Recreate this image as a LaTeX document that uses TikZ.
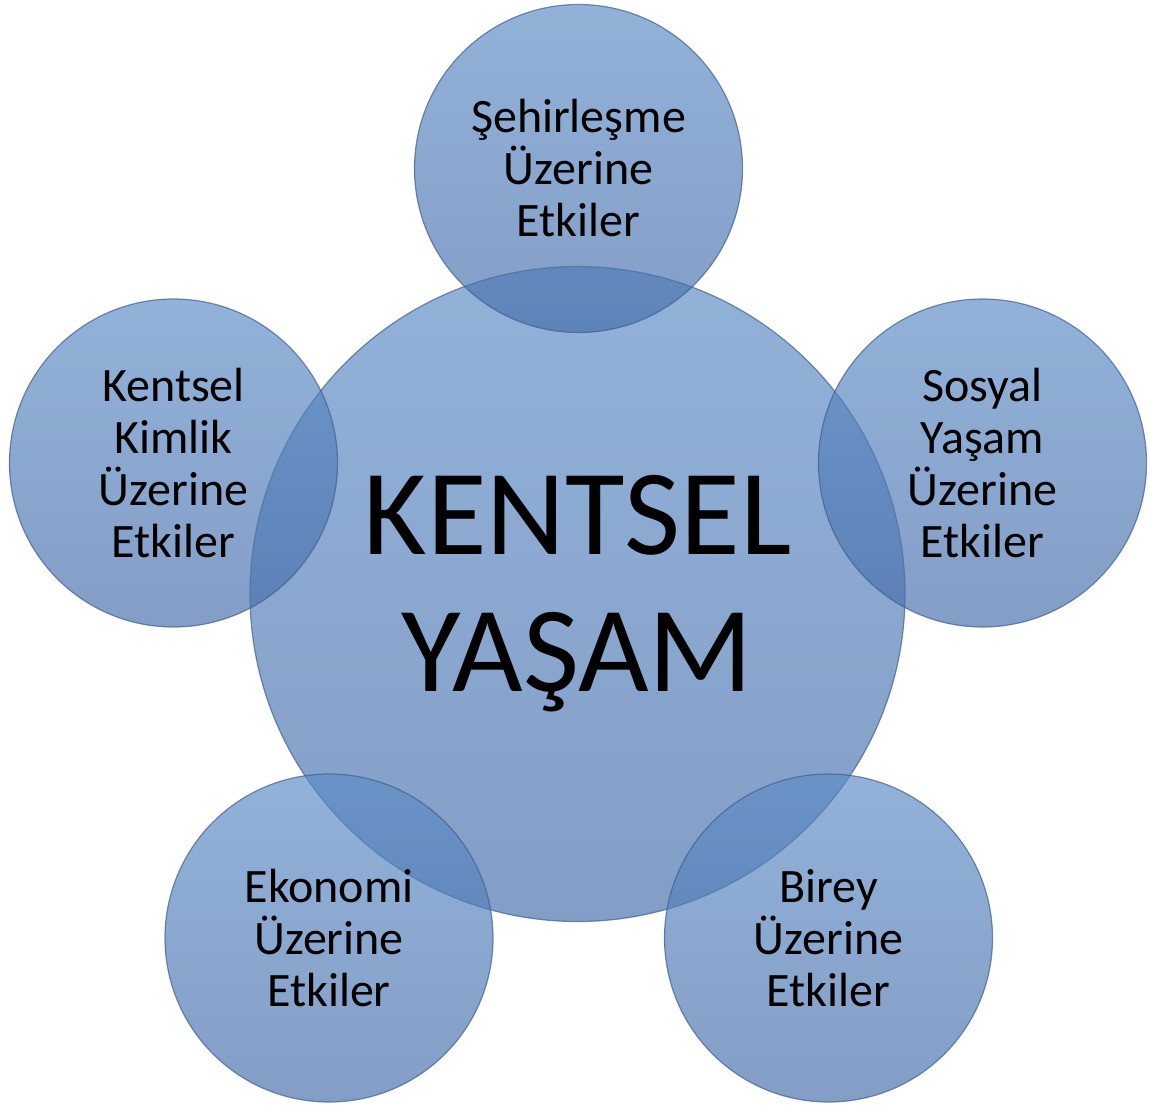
\documentclass[tikz,border=0pt]{standalone}
\usepackage{fontspec}
\setmainfont{Carlito}
\definecolor{ctop}{RGB}{92,140,198}
\definecolor{cbot}{RGB}{70,110,170}
\definecolor{cedge}{RGB}{65,95,145}
\tikzset{
  bubble/.style={circle, draw=cedge, draw opacity=0.7, line width=1.2pt,
    top color=ctop, bottom color=cbot, fill opacity=0.67, text opacity=1,
    inner sep=0pt, align=center, text=black},
  small/.style={bubble, minimum size=328pt, font=\fontsize{48}{52}\selectfont},
  big/.style={bubble, minimum size=655pt, font=\fontsize{122}{137}\selectfont},
}
\begin{document}
\begin{tikzpicture}[x=1pt,y=-1pt]
\useasboundingbox (0,0) rectangle (1150,1104);
\node[big] (center) at (577.5,594) {KENTSEL\\YAŞAM};
\node[small] (top) at (578.5,168.5) {Şehirleşme\\Üzerine\\Etkiler};
\node[small] (left) at (173.5,463) {Kentsel\\Kimlik\\Üzerine\\Etkiler};
\node[small] (right) at (982.5,463) {Sosyal\\Yaşam\\Üzerine\\Etkiler};
\node[small] (bl) at (329,938) {Ekonomi\\Üzerine\\Etkiler};
\node[small] (br) at (828.5,938) {Birey\\Üzerine\\Etkiler};
\end{tikzpicture}
\end{document}
